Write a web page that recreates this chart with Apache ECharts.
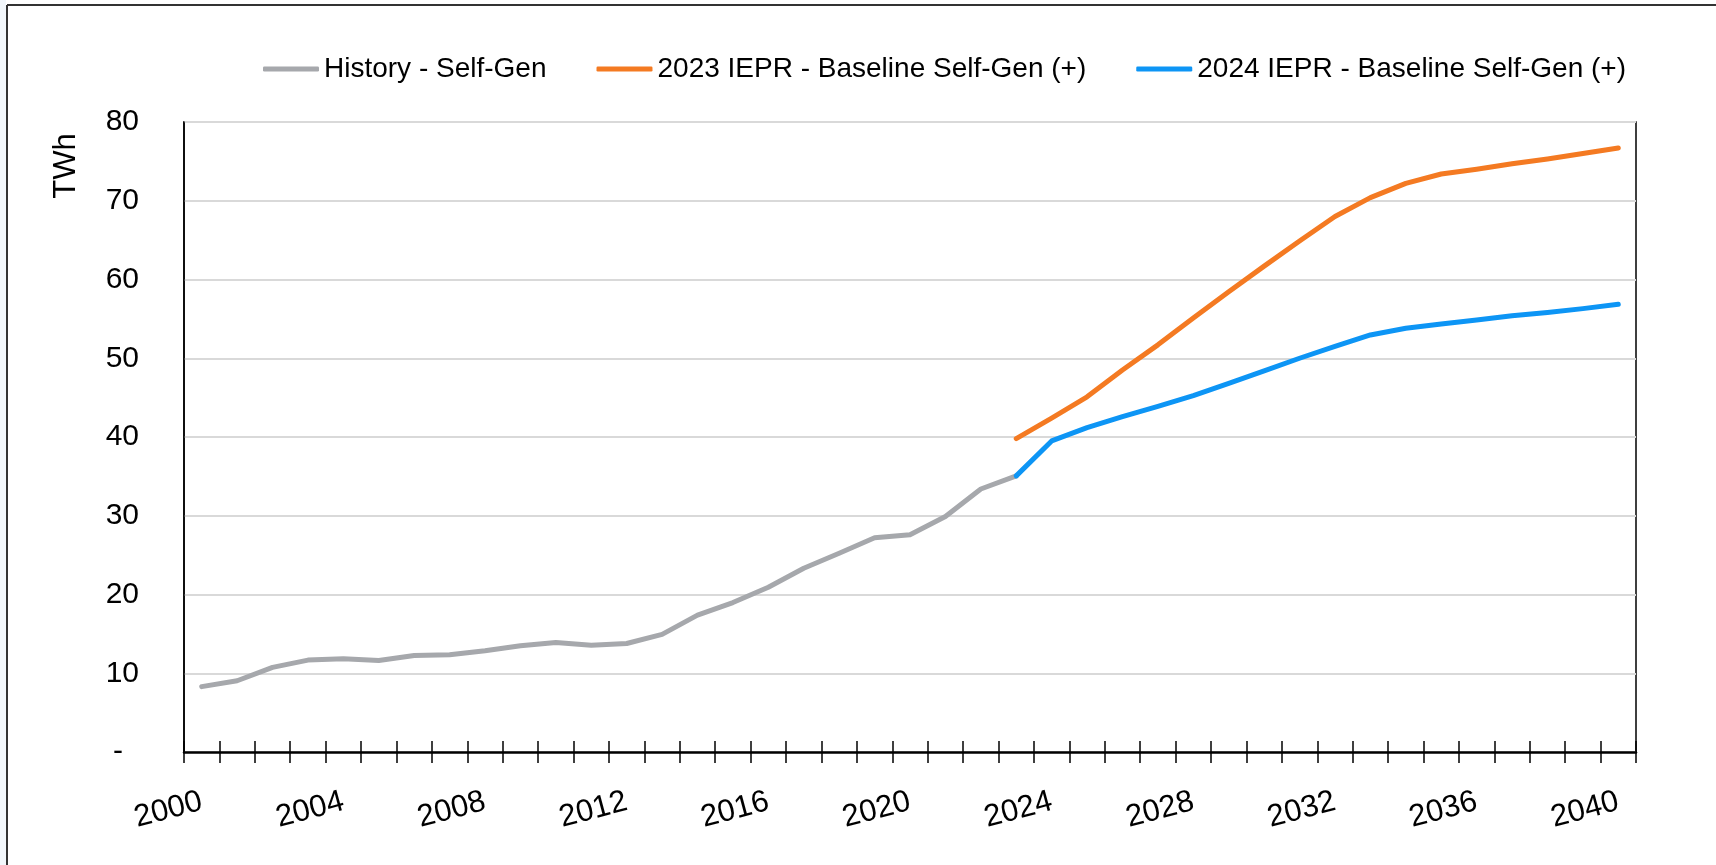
<!DOCTYPE html>
<html>
<head>
<meta charset="utf-8">
<script src="https://cdn.jsdelivr.net/npm/echarts@6/dist/echarts.min.js"></script>
<style>
  html, body { margin: 0; padding: 0; background: #fff; }
  #chart { width: 1716px; height: 865px; }
</style>
</head>
<body>
<div id="chart"></div>
<script>
  // categories
  const years = ['2000', '2001', '2002', '2003', '2004', '2005', '2006', '2007', '2008', '2009',
    '2010', '2011', '2012', '2013', '2014', '2015', '2016', '2017', '2018', '2019',
    '2020', '2021', '2022', '2023', '2024', '2025', '2026', '2027', '2028', '2029',
    '2030', '2031', '2032', '2033', '2034', '2035', '2036', '2037', '2038', '2039', '2040']

  // TWh, history runs 2000-2023
  const historySelfGen = [8.3, 9.05, 10.74, 11.67, 11.84, 11.63, 12.26, 12.35, 12.85, 13.49,
    13.91, 13.57, 13.78, 14.93, 17.38, 18.98, 20.93, 23.34, 25.24, 27.2,
    27.6, 29.9, 33.4, 35.06]

  // forecasts run 2023-2040
  const forecastStart = '2023'
  const iepr2023 = [39.8, 42.4, 45.1, 48.5, 51.7, 55.1, 58.45, 61.7, 64.9, 68.0,
    70.4, 72.2, 73.4, 74.0, 74.7, 75.3, 76.0, 76.7]
  const iepr2024 = [35.06, 39.5, 41.2, 42.6, 43.9, 45.25, 46.8, 48.4, 50.0, 51.5,
    52.96, 53.8, 54.35, 54.86, 55.4, 55.8, 56.3, 56.85]

  const seriesNames = ['History - Self-Gen', '2023 IEPR - Baseline Self-Gen (+)', '2024 IEPR - Baseline Self-Gen (+)']
  const seriesColors = ['#a6a8ac', '#f47a22', '#0d95f5']

  const yTicks = { min: 0, max: 80, interval: 10 }

  function padForecast(values) {
    const lead = years.indexOf(forecastStart)
    return new Array(lead).fill(null).concat(values)
  }

  const font = 'Liberation Sans'
  const chart = echarts.init(document.getElementById('chart'))

  const lineSeries = (name, data, color) => ({
    name: name,
    type: 'line',
    data: data,
    symbol: 'none',
    smooth: false,
    connectNulls: false,
    lineStyle: { color: color, width: 5, cap: 'round', join: 'round' },
    itemStyle: { color: color }
  })

  chart.setOption({
    animation: false,
    backgroundColor: '#fff',
    textStyle: { fontFamily: font },
    grid: {
      left: 184,
      right: 80,
      top: 122,
      bottom: 113,
      show: true,
      borderColor: '#000',
      borderWidth: 1.5,
      backgroundColor: 'transparent'
    },
    legend: {
      left: 258,
      top: 50,
      itemWidth: 56,
      itemHeight: 5,
      itemGap: 50,
      icon: 'roundRect',
      textStyle: { fontFamily: font, fontSize: 28, color: '#000', lineHeight: 28 },
      data: seriesNames
    },
    xAxis: [
      {
        type: 'category',
        data: years,
        boundaryGap: true,
        position: 'bottom',
        axisLine: { lineStyle: { color: '#000', width: 2.5 } },
        axisTick: { show: true, interval: 0, length: 11, lineStyle: { color: '#000', width: 1.5 } },
        axisLabel: {
          interval: 3,
          rotate: 15,
          margin: 49,
          fontFamily: font,
          fontSize: 31,
          color: '#000'
        },
        splitLine: { show: false }
      },
      {
        type: 'category',
        data: years,
        boundaryGap: true,
        position: 'bottom',
        axisLine: { show: false },
        axisTick: { show: true, inside: true, interval: 0, length: 11, lineStyle: { color: '#000', width: 1.5 } },
        axisLabel: { show: false },
        splitLine: { show: false }
      }
    ],
    yAxis: {
      type: 'value',
      min: yTicks.min,
      max: yTicks.max,
      interval: yTicks.interval,
      axisLine: { show: true, lineStyle: { color: '#000', width: 1.5 } },
      axisTick: { show: false },
      axisLabel: {
        margin: 45,
        fontFamily: font,
        fontSize: 30,
        color: '#000',
        formatter: v => v === 0 ? '{d|-}' : String(v),
        rich: { d: { fontFamily: font, fontSize: 30, color: '#000', padding: [0, 16, 0, 0] } }
      },
      splitLine: { show: true, lineStyle: { color: '#d9d9d9', width: 2 } }
    },
    graphic: [
      { type: 'rect', shape: { x: 0, y: 0, width: 6, height: 865 }, style: { fill: '#f2f7fb' }, silent: true },
      { type: 'line', shape: { x1: 7, y1: 5, x2: 1716, y2: 5 }, style: { stroke: '#333', lineWidth: 2 }, silent: true },
      { type: 'line', shape: { x1: 7, y1: 5, x2: 7, y2: 865 }, style: { stroke: '#333', lineWidth: 2 }, silent: true },
      {
        type: 'text',
        x: 66,
        y: 166,
        rotation: Math.PI / 2,
        style: {
          text: 'TWh',
          fontFamily: font,
          fontSize: 31,
          fill: '#000',
          textAlign: 'center',
          textVerticalAlign: 'middle'
        }
      }
    ],
    series: [
      lineSeries(seriesNames[0], historySelfGen, seriesColors[0]),
      lineSeries(seriesNames[1], padForecast(iepr2023), seriesColors[1]),
      lineSeries(seriesNames[2], padForecast(iepr2024), seriesColors[2])
    ]
  })
</script>
</body>
</html>
